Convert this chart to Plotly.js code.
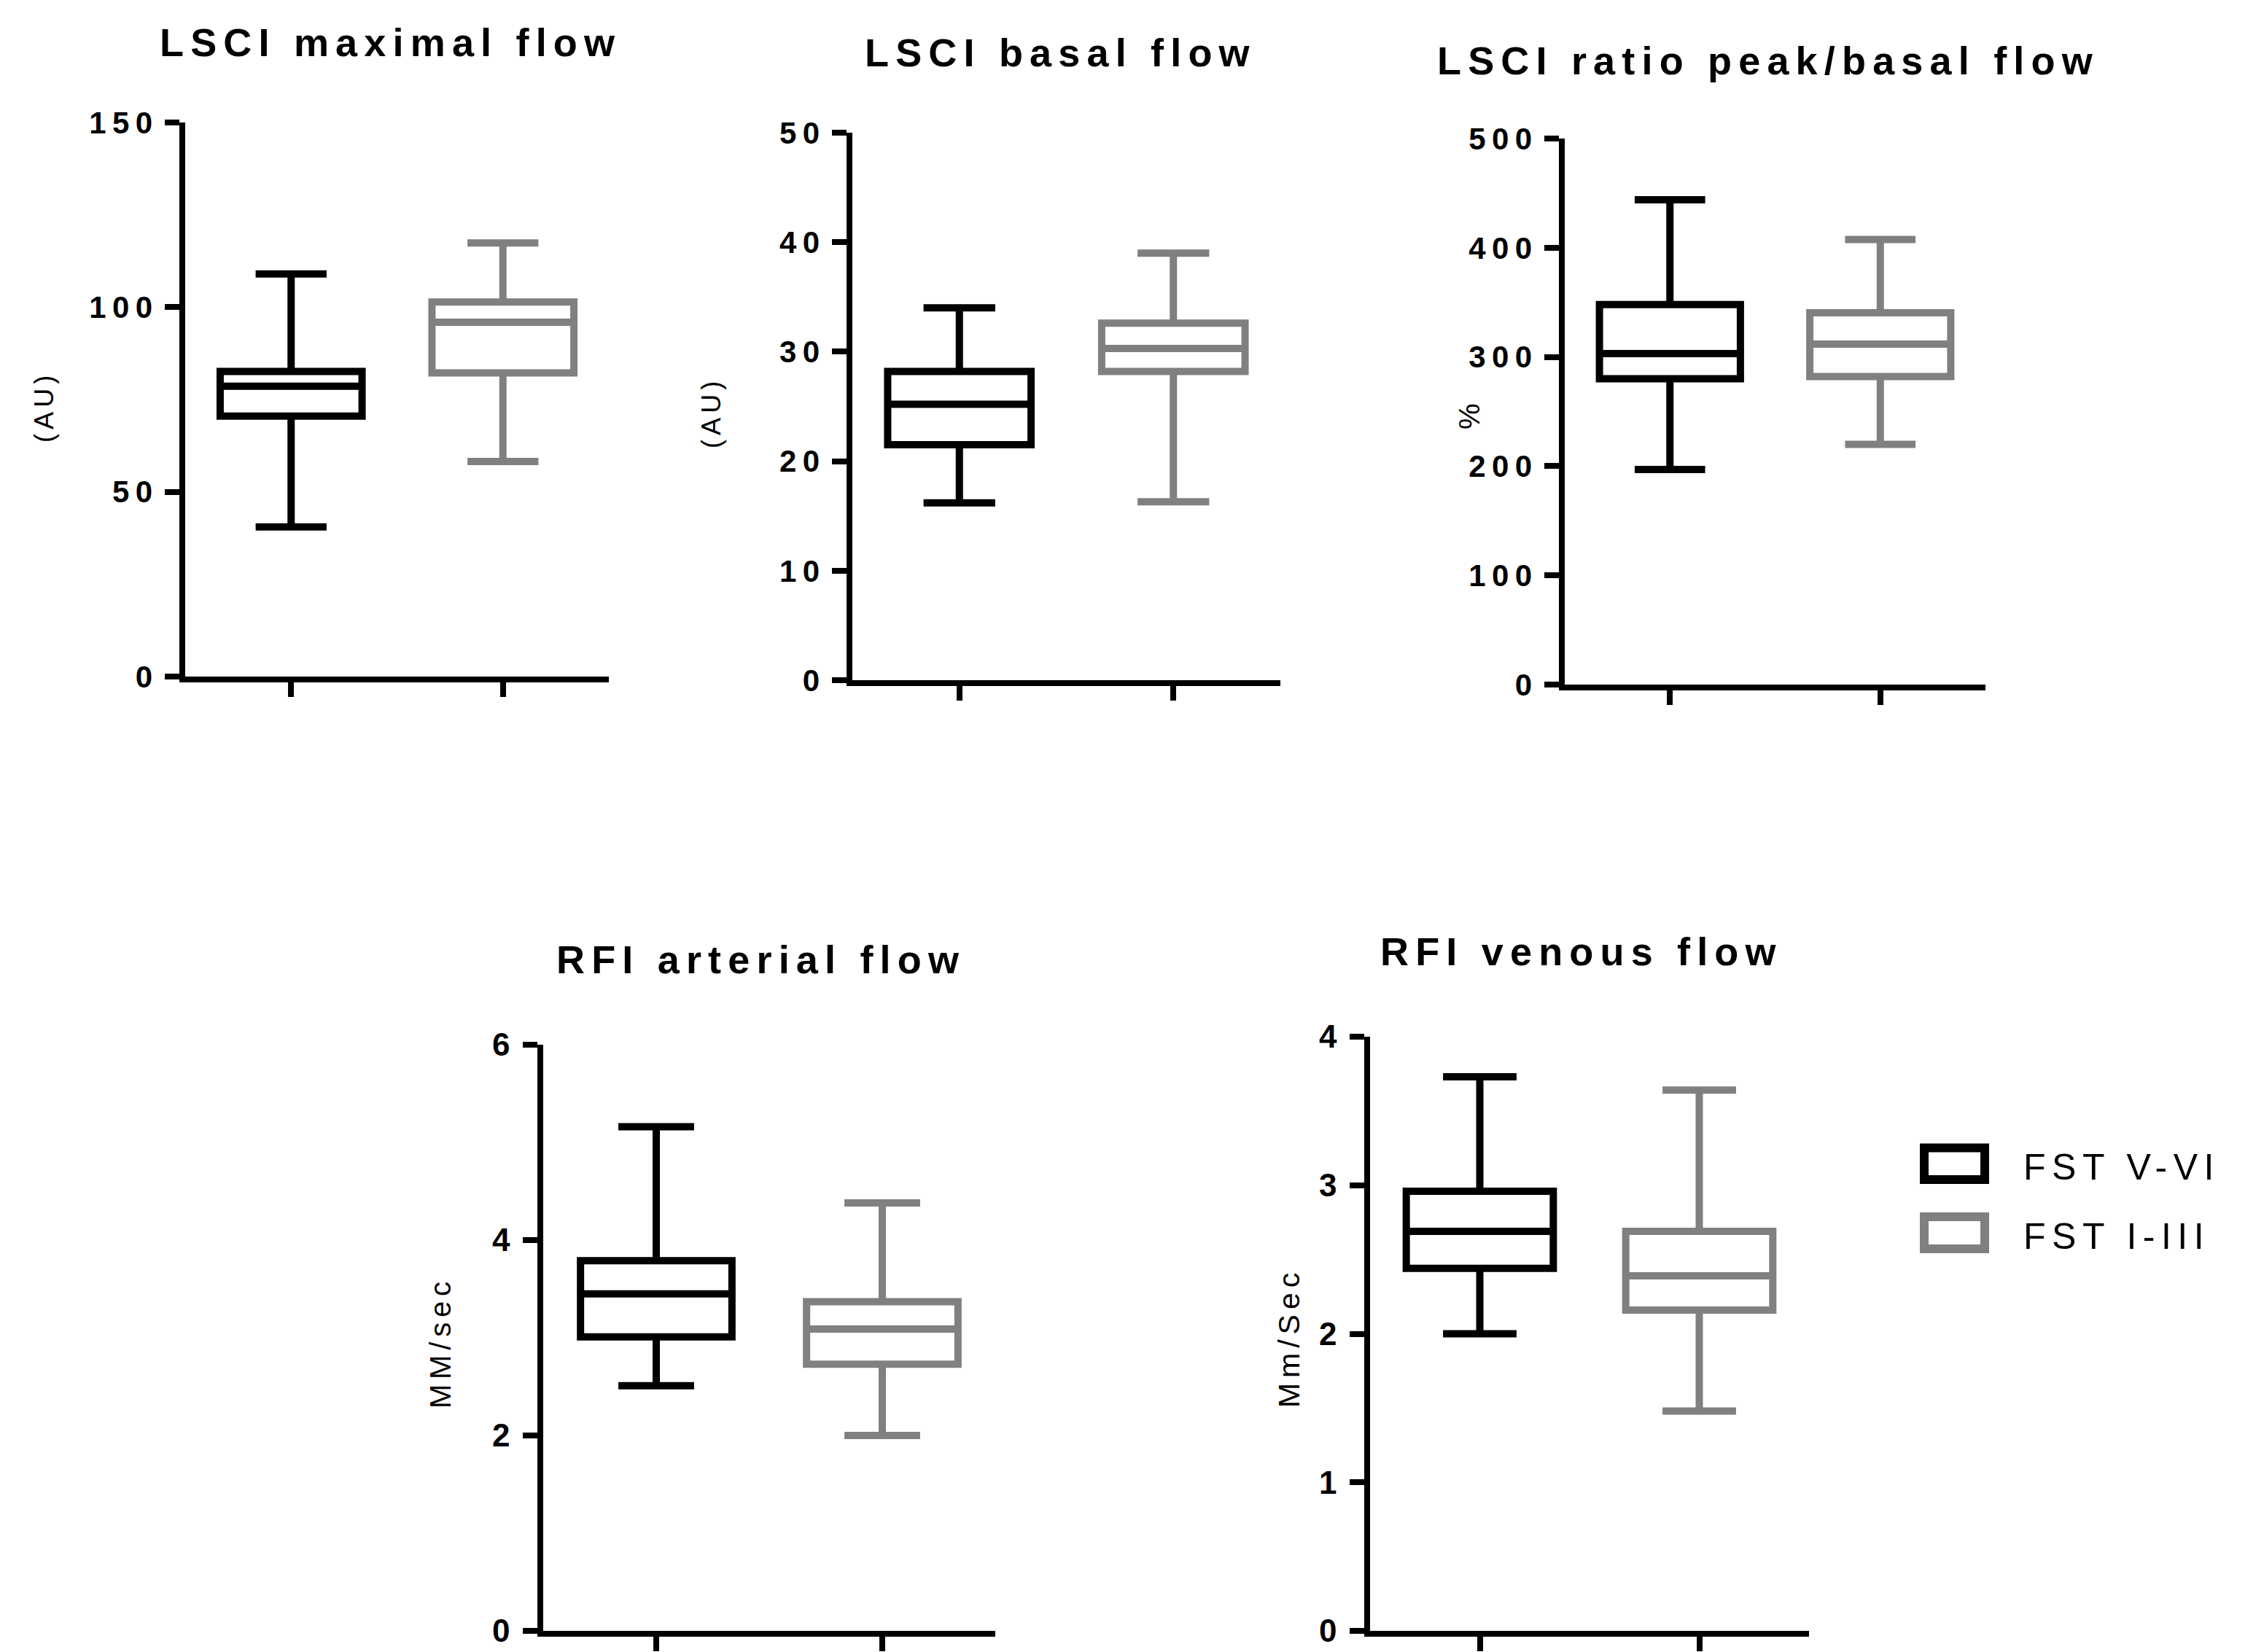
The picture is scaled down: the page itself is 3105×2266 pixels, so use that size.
<!DOCTYPE html>
<html>
<head>
<meta charset="utf-8">
<script src="https://cdn.plot.ly/plotly-3.0.1.min.js"></script>
<style>
html,body{margin:0;padding:0;background:#ffffff;}
#chart{width:3105px;height:2266px;}
.annotation-text{letter-spacing:0.17em;}
.yaxislayer-above text{letter-spacing:0.2em;}
</style>
</head>
<body>
<div id="chart"></div>
<script>
// ---------------- data ----------------
const categories = ['FST V-VI', 'FST I-III'];

const maxFlowMin = [40.5, 58.2];
const maxFlowQ1  = [70.5, 82.2];
const maxFlowMed = [78.6, 95.9];
const maxFlowQ3  = [82.6, 101.4];
const maxFlowMax = [109.0, 117.4];

const basalMin = [16.2, 16.3];
const basalQ1  = [21.5, 28.2];
const basalMed = [25.2, 30.3];
const basalQ3  = [28.2, 32.6];
const basalMax = [34.0, 39.0];

const ratioMin = [197, 220];
const ratioQ1  = [280, 282];
const ratioMed = [303, 311.7];
const ratioQ3  = [348, 340.5];
const ratioMax = [444, 407.5];

const arterialMin = [2.51, 2.00];
const arterialQ1  = [3.01, 2.73];
const arterialMed = [3.45, 3.09];
const arterialQ3  = [3.79, 3.37];
const arterialMax = [5.16, 4.38];

const venousMin = [2.00, 1.48];
const venousQ1  = [2.44, 2.16];
const venousMed = [2.69, 2.39];
const venousQ3  = [2.96, 2.69];
const venousMax = [3.73, 3.64];

const panelTitles = ['LSCI maximal flow', 'LSCI basal flow', 'LSCI ratio peak/basal flow', 'RFI arterial flow', 'RFI venous flow'];
const axisTitles  = ['(AU)', '(AU)', '%', 'MM/sec', 'Mm/Sec'];
const yTicks = [
  [0, 50, 100, 150],
  [0, 10, 20, 30, 40, 50],
  [0, 100, 200, 300, 400, 500],
  [0, 2, 4, 6],
  [0, 1, 2, 3, 4]
];

// ---------------- layout helpers ----------------
const W = 3105, H = 2266;
const fx = v => v / W;
const fy = v => 1 - v / H;

const stats = [
  [maxFlowMin, maxFlowQ1, maxFlowMed, maxFlowQ3, maxFlowMax],
  [basalMin, basalQ1, basalMed, basalQ3, basalMax],
  [ratioMin, ratioQ1, ratioMed, ratioQ3, ratioMax],
  [arterialMin, arterialQ1, arterialMed, arterialQ3, arterialMax],
  [venousMin, venousQ1, venousMed, venousQ3, venousMax]
];

// pixel frames of each panel (axis line x, right end, zero y, top y)
const frames = [
  {xl: 250, xr: 835, yb: 928, yt: 168},
  {xl: 1165, xr: 1756, yb: 933, yt: 182},
  {xl: 2142, xr: 2723, yb: 939, yt: 190},
  {xl: 741, xr: 1365, yb: 2237, yt: 1433},
  {xl: 1875, xr: 2481, yb: 2237, yt: 1422}
];
const titlePos = [[535, 58], [1454, 72], [2425, 83], [1043, 1316], [2169, 1305]];
const axTitlePos = [[61, 558], [975, 566], [2015, 568], [604, 1842], [1768, 1835]];
const axTitleSize = [36, 36, 40, 40, 41];
const tickSize = [42, 42, 42, 44, 44];

const colors = ['#000000', '#808080'];
const FONT = 'Liberation Sans, Arial, sans-serif';

const traces = [];
const layout = {
  width: W, height: H,
  margin: {l: 0, r: 0, t: 0, b: 0, pad: 0},
  paper_bgcolor: '#ffffff', plot_bgcolor: 'rgba(0,0,0,0)',
  showlegend: false,
  font: {family: FONT, color: '#000000'},
  annotations: [],
  shapes: []
};

frames.forEach((f, i) => {
  const n = i === 0 ? '' : String(i + 1);
  const [mn, q1, med, q3, mx] = stats[i];
  categories.forEach((c, g) => {
    traces.push({
      type: 'box',
      x: [c],
      q1: [q1[g]], median: [med[g]], q3: [q3[g]],
      lowerfence: [mn[g]], upperfence: [mx[g]],
      xaxis: 'x' + n, yaxis: 'y' + n,
      width: 0.67, whiskerwidth: 0.5,
      line: {color: colors[g], width: 10},
      fillcolor: '#ffffff',
      boxpoints: false, hoverinfo: 'skip', showlegend: false
    });
  });
  const ticks = yTicks[i];
  layout['xaxis' + n] = {
    domain: [fx(f.xl + 4), fx(f.xr)],
    anchor: 'y' + n,
    type: 'category', categoryorder: 'array', categoryarray: categories,
    range: [-0.5, 1.5],
    showline: true, linewidth: 8, linecolor: '#000000',
    ticks: 'outside', ticklen: 20, tickwidth: 8, tickcolor: '#000000',
    showticklabels: false, showgrid: false, zeroline: false, fixedrange: true
  };
  layout['yaxis' + n] = {
    domain: [fy(f.yb), fy(f.yt)],
    anchor: 'x' + n,
    range: [ticks[0], ticks[ticks.length - 1]],
    tickmode: 'array', tickvals: ticks, ticktext: ticks.map(String),
    showline: true, linewidth: 8, linecolor: '#000000',
    ticks: 'outside', ticklen: 20, tickwidth: 8, tickcolor: '#000000',
    tickfont: {family: FONT, size: tickSize[i], weight: 'bold', color: '#000000'},
    ticklabeloverflow: 'allow',
    showgrid: false, zeroline: false, fixedrange: true
  };
  layout.annotations.push({
    text: panelTitles[i], xref: 'paper', yref: 'paper',
    x: fx(titlePos[i][0]), y: fy(titlePos[i][1]),
    xanchor: 'center', yanchor: 'middle', showarrow: false,
    font: {family: FONT, size: 54, weight: 'bold', color: '#000000'}
  });
  layout.annotations.push({
    text: axisTitles[i], xref: 'paper', yref: 'paper',
    x: fx(axTitlePos[i][0]), y: fy(axTitlePos[i][1]),
    xanchor: 'center', yanchor: 'middle', showarrow: false, textangle: -90,
    font: {family: FONT, size: axTitleSize[i], color: '#000000'}
  });
});

// legend (drawn as swatches + labels)
const legendRows = [[1574.5, 1618], [1669, 1713]];
categories.forEach((c, g) => {
  const r = legendRows[g];
  layout.shapes.push({
    type: 'rect', xref: 'paper', yref: 'paper',
    x0: fx(2639), x1: fx(2722), y0: fy(r[1]), y1: fy(r[0]),
    line: {color: colors[g], width: 12}, fillcolor: '#ffffff'
  });
  layout.annotations.push({
    text: c, xref: 'paper', yref: 'paper',
    x: fx(2773), y: fy((r[0] + r[1]) / 2 + 5),
    xanchor: 'left', yanchor: 'middle', showarrow: false,
    font: {family: FONT, size: 50, color: '#000000'}
  });
});

Plotly.newPlot('chart', traces, layout, {staticPlot: true, displayModeBar: false});
</script>
</body>
</html>
